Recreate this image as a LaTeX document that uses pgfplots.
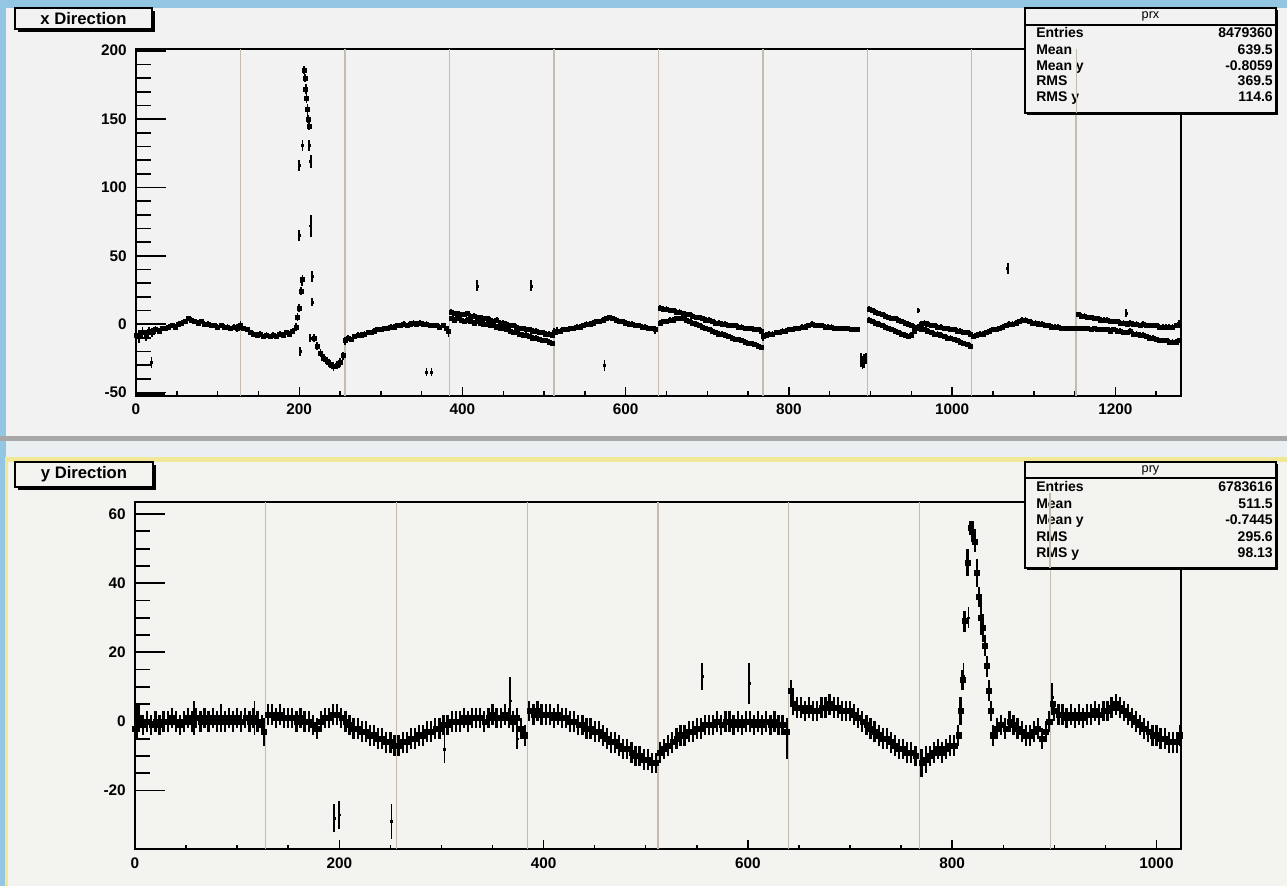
\documentclass[border=0pt]{standalone}
\usepackage{pgfplots}
\usepackage{pgfplotstable}
\pgfplotsset{compat=1.18}
\usepackage{fontspec}
\setmainfont{Liberation Sans}
\definecolor{rootblue}{RGB}{146,198,226}
\definecolor{padgray}{RGB}{242,242,242}
\definecolor{padlow}{RGB}{243,243,240}
\definecolor{sepgray}{RGB}{168,168,168}
\definecolor{sepwhite}{RGB}{234,239,242}
\definecolor{ylw}{RGB}{240,232,150}
\definecolor{vline}{RGB}{196,188,172}

\pgfplotstableread{
x y e
0 -8 4
4 -9 5
8 -6 4
12 -8 4
16 -5 3
20 -6 3
24 -4 3
28 -5 2
32 -3 2
36 -3 2
40 -2 2
44 -1 2
48 -2 2
52 0 2
56 1 2
60 2 2
64 4 2
68 3 2
72 2 2
76 1 2
80 2 2
84 0 2
88 0 2
92 -1 2
96 -1 2
100 -2 2
104 -1 2
108 -2 2
112 -2 2
116 -3 2
120 -2 2
124 -3 3
128 -1 3
132 -3 2
136 -4 2
140 -6 2
144 -7 2
148 -8 2
152 -7 2
156 -9 2
160 -8 2
164 -9 2
168 -8 2
172 -9 2
176 -7 2
180 -8 2
184 -6 2
188 -7 2
192 -5 2
196 -2 3
198 5 3
200 12 3
202 24 3
204 33 3
206 186 3
207 180 3
208 172 4
209 165 3
210 157 4
211 150 3
212 145 3
218 -10 3
222 -16 3
226 -21 3
230 -25 3
234 -27 3
238 -29 3
242 -31 3
246 -30 3
250 -28 3
254 -23 3
256 -12 3
260 -10 2
264 -11 2
268 -9 2
272 -8 2
276 -8 2
280 -7 2
284 -6 2
288 -6 2
292 -5 2
296 -4 2
300 -4 2
304 -3 2
308 -3 2
312 -2 2
316 -2 2
320 -1 2
324 -1 2
328 0 2
332 -1 2
336 0 2
340 1 2
344 0 2
348 1 2
352 0 2
356 0 2
360 -1 2
364 -1 2
368 -1 2
372 -2 2
376 -1 2
380 -3 2
383 -5 4
386 9 2
390 8 2
394 8 2
398 7 2
402 7 2
406 8 2
410 6 2
414 6 2
418 5 2
422 5 2
426 4 2
430 4 2
434 3 2
438 2 2
442 3 2
446 1 2
450 1 2
454 0 2
458 -1 2
462 -1 2
466 -2 2
470 -3 2
474 -3 2
478 -4 2
482 -4 2
486 -5 2
490 -5 2
494 -6 2
498 -6 2
502 -7 2
506 -7 2
510 -8 2
512 -6 3
516 -5 3
520 -5 2
524 -4 2
528 -4 2
532 -3 2
536 -3 2
540 -2 2
544 -2 2
548 -1 2
552 0 2
556 0 2
560 1 2
564 2 2
568 2 2
572 3 2
576 4 2
580 5 2
584 4 2
588 3 2
592 2 2
596 2 2
600 1 2
604 0 2
608 0 2
612 -1 2
616 -1 2
620 -2 2
624 -2 2
628 -3 2
632 -3 2
636 -4 3
642 12 2
646 11 2
650 11 2
654 10 2
658 10 2
662 9 2
666 9 2
670 8 2
674 7 2
678 7 2
682 6 2
686 5 2
690 5 2
694 4 2
698 3 2
702 3 2
706 2 2
710 1 2
714 1 2
718 0 2
722 0 2
726 -1 2
730 -1 2
734 -1 2
738 -2 2
742 -2 2
746 -3 2
750 -3 2
754 -3 2
758 -4 2
762 -4 2
766 -5 2
768 -9 3
772 -8 2
776 -7 2
780 -7 2
784 -6 2
788 -6 2
792 -5 2
796 -5 2
800 -4 2
804 -4 2
808 -3 2
812 -3 2
816 -2 2
820 -2 2
824 -1 2
828 0 2
832 -1 2
836 -1 2
840 -1 2
844 -2 2
848 -2 2
852 -2 2
856 -3 2
860 -3 2
864 -3 2
868 -3 2
872 -3 2
876 -4 2
880 -4 2
884 -4 2
898 11 2
902 10 2
906 9 2
910 8 2
914 7 2
918 6 2
922 5 2
926 4 2
930 4 2
934 3 2
938 2 2
942 1 2
946 0 2
950 -1 2
954 -2 2
958 -3 2
962 -4 2
966 -4 2
970 -5 2
974 -6 2
978 -7 2
982 -7 2
986 -8 2
990 -9 2
994 -10 2
998 -10 2
1002 -11 2
1006 -12 2
1010 -13 2
1014 -14 2
1018 -15 2
1022 -16 2
1026 -9 2
1030 -8 2
1034 -7 2
1038 -7 2
1042 -6 2
1046 -5 2
1050 -4 2
1054 -4 2
1058 -3 2
1062 -2 2
1066 -1 2
1070 0 2
1074 0 2
1078 1 2
1082 2 2
1086 3 2
1090 3 2
1094 2 2
1098 1 2
1102 1 2
1106 0 2
1110 0 2
1114 -1 2
1118 -1 2
1122 -2 2
1126 -2 2
1130 -2 2
1134 -3 2
1138 -3 2
1142 -3 2
1146 -3 2
1150 -3 2
1154 7 2
1158 6 2
1162 6 2
1166 5 2
1170 5 2
1174 4 2
1178 4 2
1182 3 2
1186 3 2
1190 3 2
1194 2 2
1198 2 2
1202 2 2
1206 1 2
1210 1 2
1214 0 2
1218 1 2
1222 0 2
1226 0 2
1230 -1 2
1234 0 2
1238 -1 2
1242 -1 2
1246 -1 2
1250 -1 2
1254 -2 2
1258 -2 2
1262 -2 2
1266 -2 2
1270 -2 2
1274 -1 2
1278 0 3
}\topA

\pgfplotstableread{
x y e
386 4 2
390 3 2
394 4 2
398 3 2
402 2 2
406 3 2
410 2 2
414 1 2
418 2 2
422 1 2
426 0 2
430 0 2
434 -1 2
438 -1 2
442 -2 2
446 -3 2
450 -3 2
454 -4 2
458 -5 2
462 -6 2
466 -6 2
470 -7 2
474 -8 2
478 -8 2
482 -9 2
486 -10 2
490 -10 2
494 -11 2
498 -12 2
502 -12 2
506 -13 2
510 -14 2
642 1 2
646 2 2
650 2 2
654 3 2
658 3 2
662 4 2
666 4 2
670 4 2
674 3 2
678 2 2
682 1 2
686 0 2
690 -1 2
694 -2 2
698 -3 2
702 -4 2
706 -5 2
710 -6 2
714 -7 2
718 -7 2
722 -8 2
726 -9 2
730 -10 2
734 -11 2
738 -11 2
742 -12 2
746 -13 2
750 -14 2
754 -14 2
758 -15 2
762 -16 2
766 -17 2
898 3 2
902 2 2
906 1 2
910 0 2
914 -1 2
918 -2 2
922 -3 2
926 -4 2
930 -5 2
934 -6 2
938 -7 2
942 -8 2
946 -9 2
950 -8 2
954 -5 2
958 -2 2
962 0 2
966 1 2
970 0 2
974 -1 2
978 -1 2
982 -2 2
986 -2 2
990 -3 2
994 -3 2
998 -4 2
1002 -4 2
1006 -5 2
1010 -5 2
1014 -6 2
1018 -6 2
1022 -7 2
1154 -3 2
1158 -3 2
1162 -3 2
1166 -3 2
1170 -4 2
1174 -3 2
1178 -4 2
1182 -4 2
1186 -4 2
1190 -4 2
1194 -5 2
1198 -4 2
1202 -5 2
1206 -5 2
1210 -6 2
1214 -6 2
1218 -5 2
1222 -7 2
1226 -7 2
1230 -8 2
1234 -8 2
1238 -9 2
1242 -10 2
1246 -10 2
1250 -11 2
1254 -12 2
1258 -12 2
1262 -12 2
1266 -13 2
1270 -13 2
1274 -13 2
1278 -12 2
}\topB

\pgfplotstableread{
x y e
19 -28 4
200 116 4
204 131 4
212 131 4
214 119 5
200 65 4
214 72 8
216 35 4
203 31 3
216 16 3
213 -10 3
201 -20 3
356 -35 3
362 -35 3
418 28 4
484 28 4
574 -30 4
888 -26 5
890 -28 5
892 -27 5
894 -25 4
958 10 2
1068 41 4
1213 8 3
}\topI

\pgfplotstableread{
x y e
0 -2 4
4 1 4
8 -1 3
12 0 3
16 -1 3
20 0 3
24 -1 3
28 0 3
32 0 3
36 1 3
40 0 3
44 -1 3
48 0 3
52 1 3
56 0 3
60 1 3
64 0 3
68 1 3
72 0 3
76 1 3
80 0 3
84 1 3
88 0 3
92 1 3
96 0 3
100 1 3
104 0 3
108 1 3
112 0 3
116 1 3
120 0 3
124 -1 3
126 -3 4
130 2 3
134 2 3
138 1 3
142 2 3
146 1 3
150 1 3
154 1 3
158 0 3
162 1 3
166 0 3
170 0 3
174 -1 3
178 -2 3
182 0 3
186 1 3
190 1 3
194 2 3
198 2 3
202 1 3
206 0 3
210 -1 3
214 -2 3
218 -2 3
222 -3 3
226 -3 3
230 -4 3
234 -4 3
238 -5 3
242 -5 3
246 -6 3
250 -6 3
254 -7 3
258 -7 3
262 -6 3
266 -6 3
270 -5 3
274 -5 3
278 -4 3
282 -4 3
286 -3 3
290 -3 3
294 -2 3
298 -2 3
302 -1 3
306 -1 3
310 0 3
314 0 3
318 0 3
322 1 3
326 0 3
330 1 3
334 1 3
338 1 3
342 0 3
346 1 3
350 2 3
354 1 3
358 1 3
362 2 3
366 1 3
370 0 3
374 1 3
378 -2 3
382 -4 3
386 3 3
390 2 3
394 3 3
398 2 3
402 2 3
406 2 3
410 1 3
414 2 3
418 1 3
422 1 3
426 0 3
430 0 3
434 -1 3
438 -1 3
442 -2 3
446 -2 3
450 -3 3
454 -3 3
458 -4 3
462 -5 3
466 -6 3
470 -6 3
474 -7 3
478 -8 3
482 -8 3
486 -9 3
490 -10 3
494 -10 3
498 -11 3
502 -11 3
506 -12 3
510 -12 3
514 -9 3
518 -8 3
522 -7 3
526 -6 3
530 -5 3
534 -4 3
538 -4 3
542 -3 3
546 -3 3
550 -2 3
554 -2 3
558 -1 3
562 -1 3
566 -1 3
570 0 3
574 -1 3
578 0 3
582 0 3
586 -1 3
590 0 3
594 -1 3
598 0 3
602 0 3
606 -1 3
610 0 3
614 -1 3
618 0 3
622 -1 3
626 0 3
630 -1 3
634 -1 3
638 -3 4
642 9 3
644 5 3
648 4 3
652 4 3
656 3 3
660 4 3
664 3 3
668 3 3
672 4 3
676 4 3
680 5 3
684 4 3
688 4 3
692 3 3
696 3 3
700 3 3
704 2 3
708 1 3
712 0 3
716 -1 3
720 -2 3
724 -3 3
728 -4 3
732 -5 3
736 -5 3
740 -6 3
744 -7 3
748 -8 3
752 -8 3
756 -9 3
760 -9 3
764 -10 3
770 -12 4
774 -11 4
778 -10 3
782 -9 3
786 -8 3
790 -9 3
794 -8 3
798 -7 3
802 -7 3
806 -4 3
808 3 4
810 12 3
812 29 3
815 46 4
818 56 2
820 55 3
822 52 3
824 43 4
826 36 3
828 30 5
830 27 4
832 22 3
834 16 3
836 9 3
838 3 3
840 -4 3
844 -2 3
848 -1 3
852 -2 3
856 0 3
860 -1 3
864 -2 3
868 -3 3
872 -4 3
876 -4 3
880 -3 3
884 -2 3
888 -5 3
892 -3 3
895 0 3
898 5 3
900 3 3
904 2 3
908 2 3
912 1 3
916 2 3
920 1 3
924 2 3
928 1 3
932 2 3
936 2 3
940 3 3
944 2 3
948 3 3
952 3 3
956 4 3
960 5 3
964 4 3
968 3 3
972 2 3
976 1 3
980 0 3
984 -1 3
988 -2 3
992 -3 3
996 -4 3
1000 -4 3
1004 -5 3
1008 -5 3
1012 -6 3
1016 -6 3
1020 -6 3
1023 -4 3
}\botA

\pgfplotstableread{
x y e
2 0 5
58 1 5
84 1 4
117 1 5
195 -28 4
200 -27 4
251 -29 5
303 -8 4
367 6 7
374 -5 3
555 13 4
601 11 6
638 -8 3
811 13 4
816 30 3
898 7 4
}\botI

\pgfplotsset{
  prof/.style={black, only marks, mark=square*,
    error bars/.cd, y dir=both, y explicit, error mark=none,
    error bar style={line width=1.3pt, black}},
  profb/.style={black, only marks, mark=square*,
    error bars/.cd, y dir=both, y explicit, error mark=none,
    error bar style={line width=1.7pt, black}},
  rootaxis/.style={scale only axis, anchor=south west, clip=true,
    tick align=inside, major tick length=22.5pt, minor tick length=11.25pt,
    xtick pos=bottom, ytick pos=left, xtick style={draw=none},
    ytick style={black, line width=1.3pt},
    axis line style={line width=1.4pt, black},
    tick label style={font=\fontsize{11.5}{13}\selectfont\bfseries},
    /pgf/number format/assume math mode=true,
    /pgf/number format/1000 sep={},
    yticklabel style={anchor=east, inner sep=0pt, xshift=-6.75pt},
    xticklabel style={anchor=north, inner sep=0pt, yshift=-6pt},
  },
}

\begin{document}
\begin{tikzpicture}
\useasboundingbox (0,0) rectangle (965.25pt,664.5pt);
\begin{scope}[x=0.75pt,y=-0.75pt,shift={(0pt,664.5pt)}]
\fill[rootblue] (0,0) rectangle (1287,886);
\fill[padgray] (6,8) rectangle (1287,436);
\fill[sepgray] (0,436) rectangle (1287,441);
\fill[sepwhite] (6,441) rectangle (1287,457);
\fill[ylw] (5,457) rectangle (1287,462);
\fill[ylw] (5,457) rectangle (8,886);
\fill[padlow] (8,462) rectangle (1287,886);
\end{scope}

% ---------- top panel ----------
\begin{axis}[rootaxis, at={(102pt,367.5pt)}, width=783.5pt, height=260pt,
  xmin=0, xmax=1280, ymin=-52.5, ymax=201,
  xtick={0,200,...,1200}, ytick={-50,0,...,200}, minor y tick num=4]
\pgfplotsinvokeforeach{128,256,384,512,640,768,896,1024,1152}{
  \draw[vline, line width=1.1pt] (axis cs:#1,-52.5) -- (axis cs:#1,201);}
\pgfplotsinvokeforeach{50,100,150,250,300,350,450,500,550,650,700,750,850,900,950,1050,1100,1150,1250}{
  \draw[black, line width=1.1pt] (axis cs:#1,-52.5) -- ++(0pt,3.4pt);}
\pgfplotsinvokeforeach{200,400,600,800,1000,1200}{
  \draw[black, line width=1.1pt] (axis cs:#1,-52.5) -- ++(0pt,6.75pt);}
\addplot[black, line width=2.2pt] coordinates {(0,-51) (36,-51)};
\addplot[mark size=1.5pt, prof] table[x=x, y=y, y error=e] {\topA};
\addplot[mark size=1.5pt, prof] table[x=x, y=y, y error=e] {\topB};
\addplot[mark size=0.7pt, prof] table[x=x, y=y, y error=e] {\topI};
\end{axis}

% ---------- bottom panel ----------
\begin{axis}[rootaxis, at={(101.25pt,27.5pt)}, width=784.5pt, height=260.25pt,
  xmin=0, xmax=1024, ymin=-37, ymax=63.4,
  xtick={0,200,...,1000}, ytick={-20,0,...,60}, minor y tick num=3]
\pgfplotsinvokeforeach{128,256,384,512,640,768,896}{
  \draw[vline, line width=1.1pt] (axis cs:#1,-37) -- (axis cs:#1,63.4);}
\pgfplotsinvokeforeach{50,100,150,250,300,350,450,500,550,650,700,750,850,900,950}{
  \draw[black, line width=1.1pt] (axis cs:#1,-37) -- ++(0pt,3.4pt);}
\pgfplotsinvokeforeach{200,400,600,800,1000}{
  \draw[black, line width=1.1pt] (axis cs:#1,-37) -- ++(0pt,6.75pt);}
\addplot[mark size=1.9pt, profb] table[x=x, y=y, y error=e] {\botA};
\addplot[mark size=0.7pt, prof] table[x=x, y=y, y error=e] {\botI};
\end{axis}

% ---------- boxes ----------
\begin{scope}[x=0.75pt,y=-0.75pt,shift={(0pt,664.5pt)}]
\fill[black] (18,11) rectangle (155,32);
\draw[line width=0.8pt, fill=padgray] (15,8) rectangle (152,29);
\node[font=\fontsize{12.5}{14}\selectfont\bfseries] at (83.5,18.5) {x Direction};
\fill[black] (18,465) rectangle (156,490);
\draw[line width=0.8pt, fill=padlow] (15,462) rectangle (153,487);
\node[font=\fontsize{12.5}{14}\selectfont\bfseries] at (84,474.5) {y Direction};
\fill[black] (1027,10) rectangle (1278,115);
\draw[line width=0.8pt, fill=padgray] (1025,8) rectangle (1276,113);
\draw[line width=0.8pt] (1025,25) -- (1276,25);
\node[font=\fontsize{9.5}{11}\selectfont] at (1150.5,16) {prx};
\begin{scope}[every node/.style={font=\fontsize{10.5}{12}\selectfont\bfseries, inner sep=0pt}]
\node[anchor=base west] at (1036,38) {Entries};
\node[anchor=base west] at (1036,54.5) {Mean};
\node[anchor=base west] at (1036,70.5) {Mean y};
\node[anchor=base west] at (1036,86) {RMS};
\node[anchor=base west] at (1036,102) {RMS y};
\node[anchor=base east] at (1273,38) {8479360};
\node[anchor=base east] at (1273,54.5) {639.5};
\node[anchor=base east] at (1273,70.5) {-0.8059};
\node[anchor=base east] at (1273,86) {369.5};
\node[anchor=base east] at (1273,102) {114.6};
\end{scope}
\draw[vline, line width=1.1pt] (1076.3,49) -- (1076.3,113);
\fill[black] (1027,464) rectangle (1278,570);
\draw[line width=0.8pt, fill=padlow] (1025,462) rectangle (1276,568);
\draw[line width=0.8pt] (1025,478) -- (1276,478);
\node[font=\fontsize{9.5}{11}\selectfont] at (1150.5,470) {pry};
\begin{scope}[every node/.style={font=\fontsize{10.5}{12}\selectfont\bfseries, inner sep=0pt}]
\node[anchor=base west] at (1036,491.5) {Entries};
\node[anchor=base west] at (1036,508) {Mean};
\node[anchor=base west] at (1036,524.5) {Mean y};
\node[anchor=base west] at (1036,541) {RMS};
\node[anchor=base west] at (1036,557.5) {RMS y};
\node[anchor=base east] at (1273,491.5) {6783616};
\node[anchor=base east] at (1273,508) {511.5};
\node[anchor=base east] at (1273,524.5) {-0.7445};
\node[anchor=base east] at (1273,541) {295.6};
\node[anchor=base east] at (1273,557.5) {98.13};
\end{scope}
\draw[vline, line width=1.1pt] (1050.2,493) -- (1050.2,568);
\end{scope}
\end{tikzpicture}
\end{document}
